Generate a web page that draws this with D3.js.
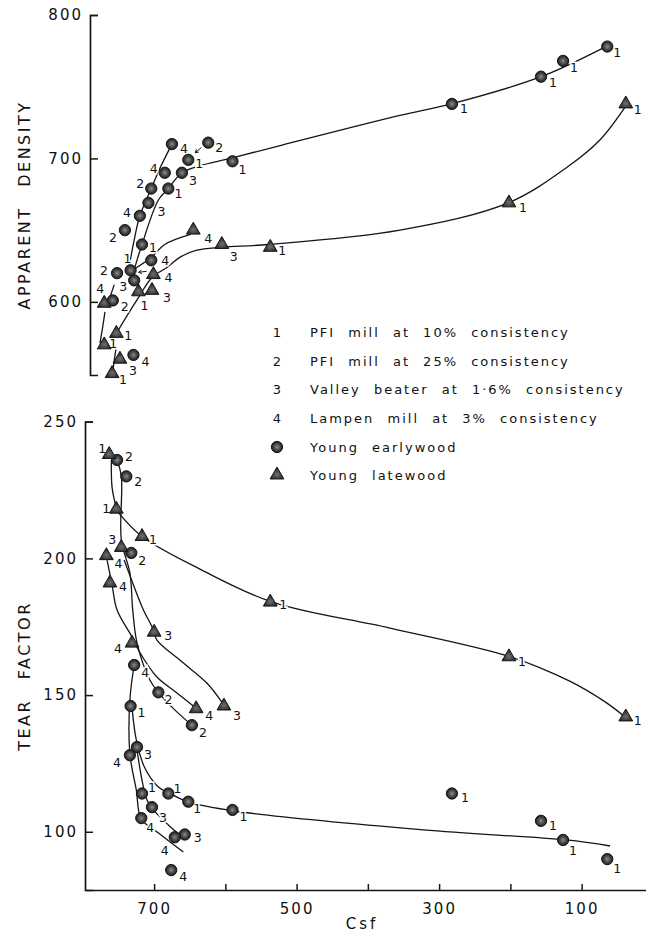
<!DOCTYPE html>
<html>
<head>
<meta charset="utf-8">
<script src="https://cdn.jsdelivr.net/npm/d3@7"></script>
<style>
  html, body { margin: 0; padding: 0; background: #fff; }
  svg { display: block; font-family: "DejaVu Sans", sans-serif; }
</style>
</head>
<body>
<svg id="chart" width="646" height="936"></svg>
<script>
// ---------------- data ----------------
const csfTicks = [700, 600, 500, 400, 300, 200, 100];
const csfLabelTicks = [700, 500, 300, 100];
const densityTicks = [800, 700, 600];
const tearTicks = [250, 200, 150, 100];

const methodKeys = ["1", "2", "3", "4"];
const methodNames = [
  "PFI mill at 10% consistency",
  "PFI mill at 25% consistency",
  "Valley beater at 1·6% consistency",
  "Lampen mill at 3% consistency"
];
const woodNames = ["Young earlywood", "Young latewood"];

// [wood (E = earlywood, L = latewood), refining method, Csf, apparent density]
const densityPoints = [
  ["E", 1, 733, 622], ["E", 1, 717, 640], ["E", 1, 680, 679], ["E", 1, 652, 699],
  ["E", 1, 590, 698], ["E", 1, 282, 738], ["E", 1, 157, 757], ["E", 1, 126, 768],
  ["E", 1, 64, 778],
  ["E", 2, 752, 620], ["E", 2, 758, 601], ["E", 2, 741, 650], ["E", 2, 704, 679],
  ["E", 2, 624, 711],
  ["E", 3, 728, 615], ["E", 3, 708, 669], ["E", 3, 661, 690],
  ["E", 4, 729, 563], ["E", 4, 704, 629], ["E", 4, 720, 660], ["E", 4, 685, 690],
  ["E", 4, 675, 710],
  ["L", 1, 759, 550], ["L", 1, 770, 570], ["L", 1, 753, 578], ["L", 1, 722, 607],
  ["L", 1, 537, 638], ["L", 1, 202, 669], ["L", 1, 38, 738],
  ["L", 3, 748, 560], ["L", 3, 703, 608], ["L", 3, 605, 640],
  ["L", 4, 770, 599], ["L", 4, 701, 619], ["L", 4, 645, 650]
];

// [wood, refining method, Csf, tear factor]
const tearPoints = [
  ["E", 1, 733, 146], ["E", 1, 717, 114], ["E", 1, 680, 114], ["E", 1, 652, 111],
  ["E", 1, 590, 108], ["E", 1, 282, 114], ["E", 1, 157, 104], ["E", 1, 126, 97],
  ["E", 1, 64, 90],
  ["E", 2, 752, 236], ["E", 2, 739, 230], ["E", 2, 732, 202], ["E", 2, 694, 151],
  ["E", 2, 647, 139],
  ["E", 3, 724, 131], ["E", 3, 703, 109], ["E", 3, 657, 99],
  ["E", 4, 728, 161], ["E", 4, 734, 128], ["E", 4, 718, 105], ["E", 4, 671, 98],
  ["E", 4, 676, 86],
  ["L", 1, 763, 238], ["L", 1, 753, 218], ["L", 1, 717, 208], ["L", 1, 537, 184],
  ["L", 1, 202, 164], ["L", 1, 38, 142],
  ["L", 3, 746, 204], ["L", 3, 700, 173], ["L", 3, 602, 146],
  ["L", 4, 767, 201], ["L", 4, 762, 191], ["L", 4, 731, 169], ["L", 4, 641, 145]
];

// hand-drawn trend curves, [Csf, value] pairs
const densityCurves = [
  [[727, 624], [717, 640], [694, 671], [680, 679], [661, 690], [635, 695], [593, 700],
   [523, 709], [355, 730], [283, 738], [157, 757], [66, 778]],
  [[736, 622], [728, 643], [720, 660], [704, 679], [692, 693], [675, 710]],
  [[731, 622], [704, 631], [685, 640], [649, 647]],
  [[753, 578], [736, 592], [722, 603], [703, 617], [682, 624], [664, 631], [640, 636],
   [605, 638], [539, 640], [355, 650], [203, 669], [120, 694], [74, 713], [36, 738]],
  [[776, 571], [772, 583], [769, 593]],
  [[759, 548], [756, 559], [753, 569]],
  [[762, 603], [756, 612]]
];

const tearCurves = [
  [[751, 217], [717, 208], [635, 196], [534, 184], [369, 174.5], [200, 164], [116, 155],
   [67, 147.5], [39, 142]],
  [[760, 236], [759, 226], [753, 218.4]],
  [[766, 199.4], [759, 190.3], [752, 181.1], [731, 171.3], [722, 166.5], [696, 156.6],
   [668, 150.8], [645, 146]],
  [[742, 199.4], [715, 181.1], [703, 175], [696, 170.1], [664, 162.8], [626, 154.4],
   [605, 147.4]],
  [[752, 236], [746, 230.1], [746, 206.7], [734, 194.7], [730, 181.1], [724, 169.1],
   [706, 155.5], [694, 151], [671, 144.6], [647, 139]],
  [[728, 161], [734, 148.2], [734, 128.5], [725, 115.3], [718, 104.7], [692, 99.2],
   [659, 92.6]],
  [[731, 145.6], [725, 133.6], [713, 123.3], [694, 116.4], [679, 114.2], [652, 110.9],
   [588, 107.6], [322, 100.7], [122, 97], [60, 94.8]],
  [[724, 129.9], [710, 111.6], [701, 108], [680, 102.5], [664, 98.9]]
];

// ---------------- layout ----------------
// label offsets (px) for each point's method number, same order as the point tables
const densityLabelOffsets = [
  [-3, -12], [11, 3], [10, 5], [11, 4], [10, 8], [12, 5], [12, 6], [11, 7], [10, 6],
  [-13, -3], [12, 6], [-12, 7], [-11, -5], [11, 5],
  [-11, 6], [13, 9], [11, 8],
  [12, 7], [14, 0], [-13, -3], [-11, -4], [12, 4],
  [11, 6], [9, -1], [12, 2], [6, 14], [12, 3], [14, 5], [12, 6],
  [13, 11], [15, 7], [12, 12],
  [-4, -15], [15, 3], [15, 8]
];
const tearLabelOffsets = [
  [11, 6], [10, -6], [9, -5], [9, 7], [11, 7], [13, 4], [12, 5], [10, 11], [10, 9],
  [12, -3], [12, 5], [11, 8], [10, 7], [11, 7],
  [11, 7], [11, 10], [13, 3],
  [11, 7], [-13, 7], [9, 9], [-10, 13], [12, 6],
  [-7, -6], [-10, -1], [11, 3], [13, 2], [13, 5], [12, 4],
  [-9, -8], [14, 3], [13, 9],
  [12, 8], [13, 4], [-14, 5], [13, 7]
];

const svg = d3.select("#chart");

const x = d3.scaleLinear().domain([797, 0]).range([85, 85 + 797 * 0.7125]);
const yTop = d3.scaleLinear().domain([549, 800]).range([375, 15]);
const yBot = d3.scaleLinear().domain([78.7, 250]).range([890, 421.7]);

const ink = "#151515";

// marker fill: dark dot with a lighter speckled centre
const defs = svg.append("defs");
const grad = defs.append("radialGradient").attr("id", "dotFill");
grad.append("stop").attr("offset", "0%").attr("stop-color", "#8c8c8c");
grad.append("stop").attr("offset", "55%").attr("stop-color", "#4a4a4a");
grad.append("stop").attr("offset", "100%").attr("stop-color", "#1c1c1c");
const tgrad = defs.append("radialGradient").attr("id", "triFill")
  .attr("cx", "50%").attr("cy", "62%").attr("r", "60%");
tgrad.append("stop").attr("offset", "0%").attr("stop-color", "#6e6e6e");
tgrad.append("stop").attr("offset", "100%").attr("stop-color", "#1c1c1c");

// ---------------- axes ----------------
function styleAxis(g) {
  g.select(".domain").attr("stroke", ink).attr("stroke-width", 1.7);
  g.selectAll(".tick line").attr("stroke", ink).attr("stroke-width", 1.5);
  g.selectAll(".tick text")
    .attr("fill", "#111")
    .style("font-family", "'DejaVu Sans', sans-serif")
    .style("font-size", "15px")
    .style("letter-spacing", "2px");
}

const topAxisX = x(790);
const botAxisX = x(797);

svg.append("g")
  .attr("transform", `translate(${topAxisX},0)`)
  .call(d3.axisLeft(yTop).tickValues(densityTicks).tickSizeInner(-8).tickSizeOuter(-8).tickPadding(7))
  .call(styleAxis);

svg.append("g")
  .attr("transform", `translate(${botAxisX},0)`)
  .call(d3.axisLeft(yBot).tickValues(tearTicks).tickSizeInner(-8).tickSizeOuter(-8).tickPadding(7))
  .call(styleAxis);

svg.append("g")
  .attr("transform", `translate(0,${yBot.range()[0]})`)
  .call(d3.axisBottom(x).tickValues(csfTicks).tickSizeInner(-6).tickSizeOuter(0).tickPadding(13)
    .tickFormat(d => csfLabelTicks.includes(d) ? d : ""))
  .call(styleAxis);

// axis titles
const titleStyle = sel => sel
  .attr("fill", "#111")
  .style("font-size", "16px")
  .style("letter-spacing", "2.5px")
  .style("word-spacing", "12px")
  .attr("text-anchor", "middle");

svg.append("text")
  .attr("transform", `translate(30,205) rotate(-90)`)
  .text("APPARENT DENSITY").call(titleStyle);

svg.append("text")
  .attr("transform", `translate(30,676) rotate(-90)`)
  .text("TEAR FACTOR").call(titleStyle);

svg.append("text")
  .attr("x", 362).attr("y", 929)
  .text("Csf").call(titleStyle).style("font-size", "15px").style("letter-spacing", "3px");

// ---------------- curves ----------------
const lineTop = d3.line().x(d => x(d[0])).y(d => yTop(d[1])).curve(d3.curveCatmullRom.alpha(0.5));
const lineBot = d3.line().x(d => x(d[0])).y(d => yBot(d[1])).curve(d3.curveCatmullRom.alpha(0.5));

svg.append("g").selectAll("path").data(densityCurves).join("path")
  .attr("d", lineTop).attr("fill", "none").attr("stroke", ink).attr("stroke-width", 1.3);
svg.append("g").selectAll("path").data(tearCurves).join("path")
  .attr("d", lineBot).attr("fill", "none").attr("stroke", ink).attr("stroke-width", 1.3);

// ---------------- point labels ----------------
function drawLabels(points, offsets, yScale) {
  svg.append("g").selectAll("text").data(points).join("text")
    .attr("x", (d, i) => x(d[2]) + offsets[i][0])
    .attr("y", (d, i) => yScale(d[3]) + offsets[i][1])
    .attr("dy", "0.36em")
    .attr("text-anchor", "middle")
    .style("font-size", "12.5px")
    .attr("fill", "#111")
    .attr("stroke", "#fff").attr("stroke-width", 3.2)
    .style("paint-order", "stroke")
    .text(d => methodKeys[d[1] - 1]);
}
drawLabels(densityPoints, densityLabelOffsets, yTop);
drawLabels(tearPoints, tearLabelOffsets, yBot);

// ---------------- markers ----------------
const circleSym = d3.symbol().type(d3.symbolCircle).size(100);
const triSym = d3.symbol().type(d3.symbolTriangle).size(82);

function drawMarkers(points, yScale) {
  svg.append("g").selectAll("path").data(points).join("path")
    .attr("transform", d => `translate(${x(d[2])},${yScale(d[3])})`)
    .attr("d", d => d[0] === "E" ? circleSym() : triSym())
    .attr("fill", d => d[0] === "E" ? "url(#dotFill)" : "url(#triFill)")
    .attr("stroke", ink).attr("stroke-width", 1);
}
drawMarkers(densityPoints, yTop);
drawMarkers(tearPoints, yBot);

// small pointer arrows beside two crowded points
function pointer(px, py, x1, y1, x2, y2) {
  const g = svg.append("g").attr("stroke", ink).attr("stroke-width", 1).attr("fill", "none");
  const ax = px + x1, ay = py + y1, bx = px + x2, by = py + y2;
  g.append("line").attr("x1", ax).attr("y1", ay).attr("x2", bx).attr("y2", by);
  const ang = Math.atan2(by - ay, bx - ax);
  const h = 3.5;
  g.append("path").attr("d",
    `M${bx + h * Math.cos(ang + 2.6)},${by + h * Math.sin(ang + 2.6)}L${bx},${by}L${bx + h * Math.cos(ang - 2.6)},${by + h * Math.sin(ang - 2.6)}`);
}
pointer(x(624), yTop(711), -7, 5, -13, 10);
pointer(x(733), yTop(622), 16, 1, 8, 2);

// ---------------- legend ----------------
const legendRows = [337, 366, 394, 423, 452, 480];
const legendText = sel => sel
  .style("font-size", "13px").style("letter-spacing", "2px").style("word-spacing", "7px");
const lg = svg.append("g").attr("fill", "#111");
methodNames.forEach((name, i) => {
  lg.append("text").attr("x", 277).attr("y", legendRows[i])
    .attr("text-anchor", "middle").style("font-size", "13px").text(methodKeys[i]);
  lg.append("text").attr("x", 310).attr("y", legendRows[i]).call(legendText).text(name);
});
woodNames.forEach((name, i) => {
  const cy = legendRows[4 + i] - 5;
  lg.append("path")
    .attr("transform", `translate(277,${cy})`)
    .attr("d", i === 0 ? circleSym() : triSym())
    .attr("fill", i === 0 ? "url(#dotFill)" : "url(#triFill)")
    .attr("stroke", ink).attr("stroke-width", 1);
  lg.append("text").attr("x", 310).attr("y", legendRows[4 + i]).call(legendText).text(name);
});
</script>
</body>
</html>
